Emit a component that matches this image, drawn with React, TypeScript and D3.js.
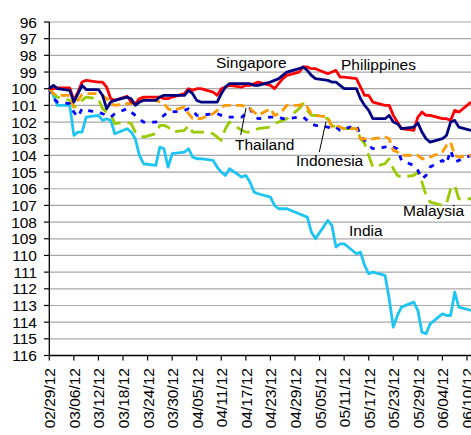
import { useEffect, useRef } from 'react';
import * as d3 from 'd3';

// business days, index = 100 on 02/29/12
const dates = [
  "02/29/12", "03/01/12", "03/02/12",
  "03/05/12", "03/06/12", "03/07/12", "03/08/12", "03/09/12",
  "03/12/12", "03/13/12", "03/14/12", "03/15/12", "03/16/12",
  "03/19/12", "03/20/12", "03/21/12", "03/22/12", "03/23/12",
  "03/26/12", "03/27/12", "03/28/12", "03/29/12", "03/30/12",
  "04/02/12", "04/03/12", "04/04/12", "04/05/12", "04/06/12",
  "04/09/12", "04/10/12", "04/11/12", "04/12/12", "04/13/12",
  "04/16/12", "04/17/12", "04/18/12", "04/19/12", "04/20/12",
  "04/23/12", "04/24/12", "04/25/12", "04/26/12", "04/27/12",
  "04/30/12", "05/01/12", "05/02/12", "05/03/12", "05/04/12",
  "05/07/12", "05/08/12", "05/09/12", "05/10/12", "05/11/12",
  "05/14/12", "05/15/12", "05/16/12", "05/17/12", "05/18/12",
  "05/21/12", "05/22/12", "05/23/12", "05/24/12", "05/25/12",
  "05/28/12", "05/29/12", "05/30/12", "05/31/12", "06/01/12",
  "06/04/12", "06/05/12", "06/06/12", "06/07/12", "06/08/12",
  "06/11/12",
];

const india = [
  100, 100.4, 101,
  101, 102.8, 102.6, 102.6, 101.7,
  101.6, 101.9, 101.8, 101.9, 102.7,
  102.4, 102.6, 103.0, 104.0, 104.5,
  104.6, 103.5, 103.6, 104.7, 103.9,
  103.8, 103.6, 104.1, 104.2, 104.2,
  104.3, 104.7, 105.0, 105.2, 104.8,
  105.3, 105.2, 105.6, 106.2, 106.3,
  106.5, 107.0, 107.2, 107.2, 107.2,
  107.5, 107.6, 107.7, 108.6, 109.0,
  107.9, 108.2, 109.5, 109.3, 109.3,
  109.9, 109.8, 110.6, 111.1, 111.0,
  111.2, 112.6, 114.3, 113.6, 113.1,
  112.8, 113.3, 114.6, 114.7, 114.1,
  113.5, 113.6, 113.6, 112.2, 113.1,
  113.3,
];

const malaysia = [
  100, 100.3, 100.5,
  100.7, 101.1, 101.0, 100.7, 100.5,
  100.6, 101.2, 101.4, 101.5, 102.1,
  102.0, 102.1, 102.6, 102.8, 102.9,
  102.7, 102.2, 102.2, 102.3, 102.6,
  102.5, 102.2, 102.6, 102.6, 102.6,
  102.7, 102.9, 103.1, 102.4, 102.0,
  102.5, 102.6, 102.6, 102.5, 102.4,
  102.3, 102.1, 102.0, 101.9, 101.8,
  101.2, 100.9, 101.3, 101.6, 101.6,
  101.8, 102.2, 102.3, 102.4, 102.4,
  102.4, 103.0, 103.3, 104.0, 104.7,
  104.5, 104.2, 104.8, 105.2, 105.3,
  105.2, 105.0, 105.6, 106.4, 106.8,
  107.0, 106.9, 106.0, 105.8, 106.6,
  106.6,
];

const indonesia = [
  100, 100.6, 100.8,
  100.9, 101.4, 101.7, 101.2, 101.3,
  101.4, 101.5, 101.6, 101.7, 101.5,
  101.2, 101.4, 101.6, 101.8, 102.0,
  102.0, 101.8, 101.6, 101.4, 101.4,
  101.3, 101.2, 101.3, 101.6, 101.6,
  101.5, 101.5, 101.6, 101.7, 101.7,
  101.7, 101.5, 101.2, 101.6, 101.8,
  101.7, 101.7, 101.7, 101.8, 101.8,
  101.7, 101.7, 101.9, 102.1, 102.2,
  102.3, 102.4, 102.3, 102.5, 102.4,
  102.2, 102.8, 103.1, 103.4, 103.6,
  103.5, 103.4, 103.5, 103.6, 104.3,
  104.6, 104.9, 105.4, 105.2, 104.7,
  104.3, 104.5, 103.7, 104.4, 104.3,
  104.0,
];

const thailand = [
  100, 100.3, 100.4,
  100.4, 101.1, 100.7, 100.35, 100.3,
  100.3, 100.4, 100.6, 100.9, 101.0,
  100.9, 100.9, 100.7, 100.6, 100.6,
  100.7, 100.8, 100.9, 101.2, 101.3,
  101.1, 101.5, 101.8, 101.8, 101.8,
  101.5, 101.3, 101.1, 101.0, 101.0,
  101.0, 101.1, 101.2, 101.4, 101.6,
  101.2, 101.6, 101.5, 101.3, 101.0,
  101.0, 100.9, 101.1, 101.5, 101.6,
  101.7, 102.3, 102.2, 102.3, 102.4,
  102.4, 103.0, 103.0, 103.1, 103.0,
  102.9, 103.0, 103.7, 103.8, 104.0,
  104.0, 104.0, 104.2, 104.2, 104.1,
  103.8, 103.4, 103.2, 104.0, 104.1,
  104.0,
];

const philippines = [
  100, 100, 99.95,
  99.95, 100.7, 100.2, 99.6, 99.5,
  99.6, 99.6, 99.9, 100.6, 100.7,
  100.45, 100.8, 100.9, 100.6, 100.5,
  100.5, 100.5, 100.6, 100.6, 100.5,
  100.3, 100.0, 100.1, 100.0, 100.0,
  100.2, 100.4, 100.0, 99.9, 99.8,
  99.9, 99.8, 99.8, 99.7, 99.6,
  99.8, 100.0, 99.7, 99.4, 99.2,
  99.0, 98.7, 98.7, 98.8, 98.8,
  99.1, 99.0, 98.9, 99.3, 99.3,
  99.4, 99.9, 100.4, 100.4, 100.8,
  101.0, 101.0, 101.6, 102.0, 102.4,
  102.5, 101.7, 101.4, 101.6, 101.6,
  101.8, 101.8, 101.9, 101.3, 101.4,
  100.8,
];

const singapore = [
  100, 99.8, 100,
  100.1, 100.8, 100.3, 99.8, 100.05,
  100.05, 100.4, 101.2, 100.8, 100.7,
  100.5, 100.6, 101.0, 100.8, 100.7,
  100.7, 100.5, 100.4, 100.4, 100.4,
  100.4, 100.1, 100.3, 100.7, 100.8,
  100.8, 100.8, 100.3, 99.9, 99.7,
  99.7, 99.7, 99.7, 99.8, 99.8,
  99.6, 99.5, 99.4, 99.2, 99.0,
  98.8, 98.7, 98.9, 99.2, 99.4,
  99.5, 99.6, 99.6, 99.8, 100.0,
  100.0, 100.6, 101.0, 101.3, 101.8,
  101.8, 101.6, 102.0, 102.1, 102.4,
  102.3, 102.05, 102.6, 103.0, 103.2,
  103.0, 102.8, 102.0, 101.9, 102.3,
  102.5,
];

const tickLabels = [
  "02/29/12", "03/06/12", "03/12/12", "03/18/12", "03/24/12", "03/30/12",
  "04/05/12", "04/11/12", "04/17/12", "04/23/12", "04/29/12", "05/05/12",
  "05/11/12", "05/17/12", "05/23/12", "05/29/12", "06/04/12", "06/10/12",
];

const yTicks = d3.range(96, 117);

const series = [
  { name: "India", values: india, color: "#1ec4f2", dash: null },
  { name: "Malaysia", values: malaysia, color: "#99cc00", dash: "14,7" },
  { name: "Indonesia", values: indonesia, color: "#0000ff", dash: "5,7" },
  { name: "Thailand", values: thailand, color: "#ff9900", dash: "9,5" },
  { name: "Philippines", values: philippines, color: "#ff0000", dash: null },
  { name: "Singapore", values: singapore, color: "#000080", dash: null },
];

const labels = [
  { text: "Singapore", x: 216, y: 68 },
  { text: "Philippines", x: 341, y: 70 },
  { text: "Thailand", x: 235, y: 150 },
  { text: "Indonesia", x: 296, y: 166 },
  { text: "Malaysia", x: 403, y: 216 },
  { text: "India", x: 349, y: 236 },
];

export default function App() {
  const svgRef = useRef<SVGSVGElement>(null);

  useEffect(() => {
    if (!svgRef.current) return;
    const svg = d3.select(svgRef.current);
    svg.selectAll("*").remove();

    const W = 471, H = 435;
    const font = "Arial, 'Liberation Sans', sans-serif";
    const parse = d3.timeParse("%m/%d/%y");

    const x = d3.scaleTime()
      .domain([parse("02/29/12")!, parse("06/10/12")!])
      .range([49.3, 467]);
    const y = d3.scaleLinear().domain([96, 116]).range([22, 355.5]);

    // gridlines
    svg.append("g").selectAll("line")
      .data(yTicks.filter(d => d !== 116))
      .enter().append("line")
      .attr("x1", x.range()[0]).attr("x2", W + 5)
      .attr("y1", d => y(d)).attr("y2", d => y(d))
      .style("stroke", "#a8a8a8").style("stroke-width", 1.2);

    // y axis
    const ya = svg.append("g");
    ya.append("line")
      .attr("x1", 49.3).attr("x2", 49.3).attr("y1", y(96)).attr("y2", y(116))
      .style("stroke", "#000").style("stroke-width", 1.3);
    ya.selectAll(".yt").data(yTicks).enter().append("line")
      .attr("x1", 44).attr("x2", 49.3)
      .attr("y1", d => y(d)).attr("y2", d => y(d))
      .style("stroke", "#000").style("stroke-width", 1.2);
    ya.selectAll("text").data(yTicks).enter().append("text")
      .attr("x", 37).attr("y", d => y(d))
      .attr("dy", "0.36em")
      .attr("text-anchor", "end")
      .style("font-family", font).style("font-size", "15.5px").style("fill", "#000")
      .text(d => d);

    // x axis
    const xa = svg.append("g");
    xa.append("line")
      .attr("x1", 49.3).attr("x2", W + 5).attr("y1", y(116)).attr("y2", y(116))
      .style("stroke", "#000").style("stroke-width", 1.3);
    xa.selectAll(".xt").data(tickLabels).enter().append("line")
      .attr("x1", d => x(parse(d)!)).attr("x2", d => x(parse(d)!))
      .attr("y1", y(116)).attr("y2", y(116) + 5)
      .style("stroke", "#000").style("stroke-width", 1.2);
    xa.selectAll("text").data(tickLabels).enter().append("text")
      .attr("transform", d => `translate(${x(parse(d)!) + 6},368) rotate(-90)`)
      .attr("text-anchor", "end")
      .style("font-family", font).style("font-size", "15.5px").style("fill", "#000")
      .text(d => d);

    // lines
    const pts = dates.map(d => parse(d)!);
    const line = d3.line<number>()
      .x((_, i) => x(pts[i]))
      .y(v => y(v));

    series.forEach(s => {
      const p = svg.append("path")
        .datum(s.values)
        .attr("d", line)
        .style("fill", "none")
        .style("stroke", s.color)
        .style("stroke-width", 2.8)
        .style("stroke-linejoin", "round");
      if (s.dash) p.style("stroke-dasharray", s.dash);
    });

    // leader lines
    svg.append("line").attr("x1", 240.7).attr("y1", 135).attr("x2", 246).attr("y2", 108)
      .style("stroke", "#000").style("stroke-width", 1);
    svg.append("line").attr("x1", 319.3).attr("y1", 152).attr("x2", 326).attr("y2", 121.5)
      .style("stroke", "#000").style("stroke-width", 1);

    svg.selectAll(".lbl").data(labels).enter().append("text")
      .attr("x", d => d.x).attr("y", d => d.y)
      .style("font-family", font).style("font-size", "15.5px").style("fill", "#000")
      .text(d => d.text);

    svg.attr("width", W).attr("height", H);
  }, []);

  return (
    <div style={{ position: "absolute", left: 0, top: 0, width: 471, height: 435, overflow: "hidden", background: "#fff" }}>
      <svg ref={svgRef} width={471} height={435} style={{ display: "block" }} />
    </div>
  );
}
